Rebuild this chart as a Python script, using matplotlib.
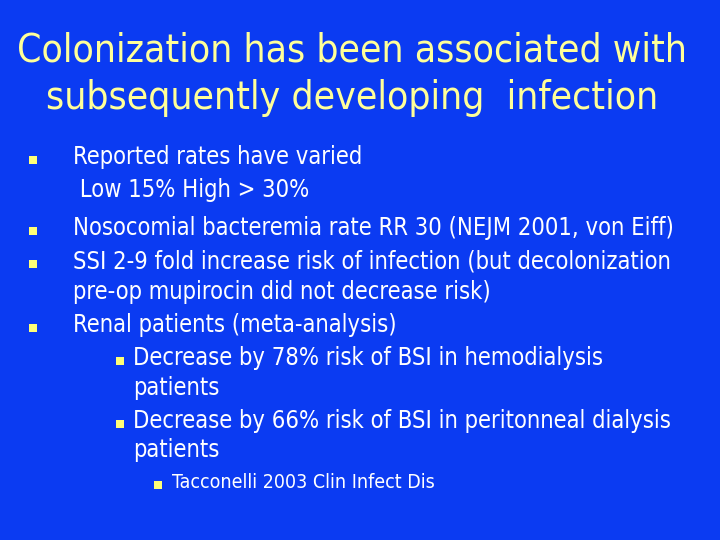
import matplotlib
matplotlib.use("Agg")
import matplotlib.pyplot as plt

BG_BLUE = "#0B3BF2"
TITLE_YELLOW = "#FFFF99"
BULLET_YELLOW = "#FFFF77"

title_lines = [
    "Colonization has been associated with",
    "subsequently developing  infection",
]

# (level, has_bullet, text)
body_lines = [
    (0, True, "Reported rates have varied"),
    (0, False, " Low 15% High > 30%"),
    (0, True, "Nosocomial bacteremia rate RR 30 (NEJM 2001, von Eiff)"),
    (0, True, "SSI 2-9 fold increase risk of infection (but decolonization"),
    (0, False, "pre-op mupirocin did not decrease risk)"),
    (0, True, "Renal patients (meta-analysis)"),
    (1, True, "Decrease by 78% risk of BSI in hemodialysis"),
    (1, False, "patients"),
    (1, True, "Decrease by 66% risk of BSI in peritonneal dialysis"),
    (1, False, "patients"),
    (2, True, "Tacconelli 2003 Clin Infect Dis"),
]

line_y = [157, 190, 228, 261, 292, 325, 358, 388, 421, 450, 482]
text_x = {0: 73, 1: 133, 2: 172}
bullet_x = {0: 33, 1: 120, 2: 158}
font_size = {0: 17, 1: 17, 2: 14}
bullet_size = {0: 40, 1: 40, 2: 30}

fig = plt.figure(figsize=(7.2, 5.4), dpi=100)
fig.patch.set_facecolor(BG_BLUE)
ax = fig.add_axes([0, 0, 1, 1])
ax.set_facecolor(BG_BLUE)
ax.set_xlim(0, 720)
ax.set_ylim(540, 0)
ax.axis("off")

for i, line in enumerate(title_lines):
    ax.text(352, 50 + i * 48, line, ha="center", va="center",
            fontsize=28, color=TITLE_YELLOW, family="DejaVu Sans",
            fontstretch="condensed")

for (level, has_bullet, text), y in zip(body_lines, line_y):
    ax.text(text_x[level], y, text, ha="left", va="center",
            fontsize=font_size[level], color="white", family="DejaVu Sans",
            fontstretch="condensed")
    if has_bullet:
        ax.scatter([bullet_x[level]], [y + 3], marker="s", s=bullet_size[level],
                   color=BULLET_YELLOW, linewidths=0)

fig.savefig("out.png", dpi=100, facecolor=BG_BLUE)
